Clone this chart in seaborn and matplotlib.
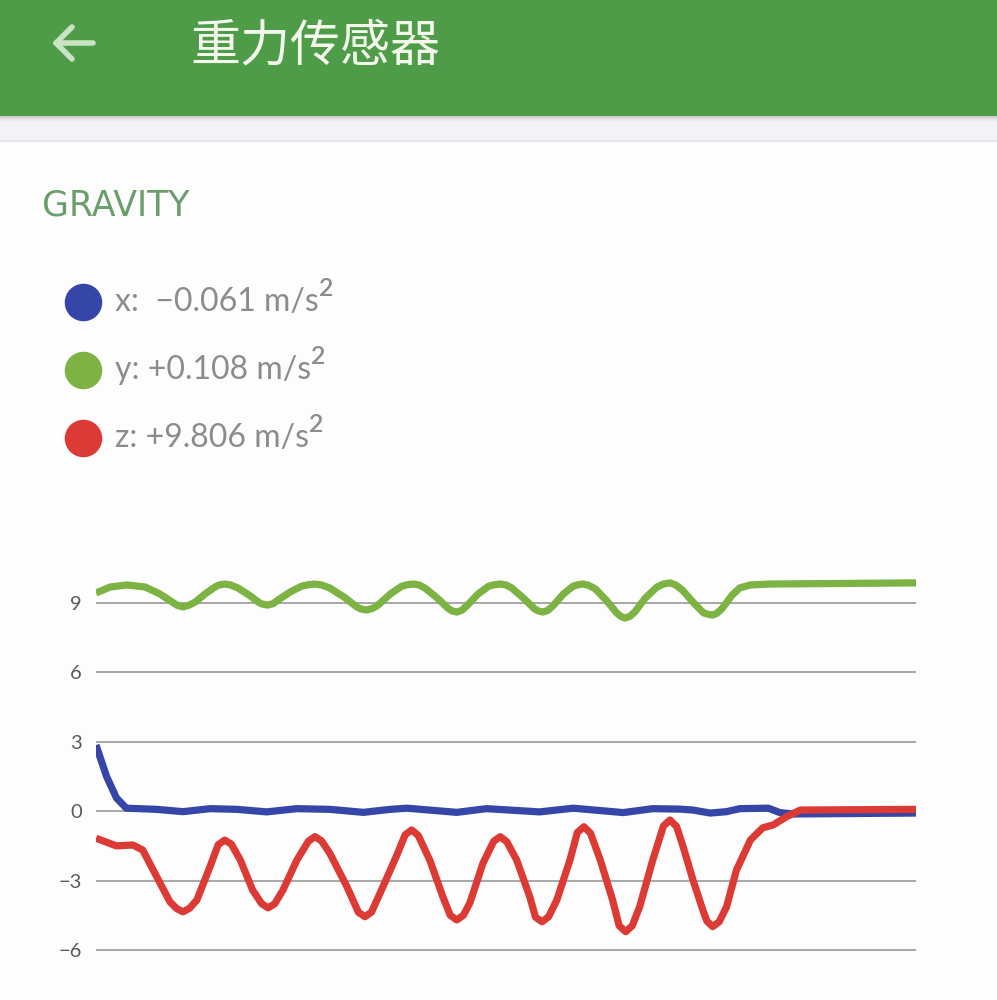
import pandas as pd
import seaborn as sns
import matplotlib.pyplot as plt
from matplotlib.patches import Rectangle
from matplotlib.lines import Line2D
from matplotlib.text import Annotation

# gravity sensor readings (time in s, value in m/s^2)
t_x = [0, 0.13, 0.25, 0.37, 0.74, 1.06, 1.39, 1.72, 2.08, 2.45, 2.85, 3.26, 3.59, 3.79,
       4.40, 4.76, 5.41, 5.82, 6.43, 6.79, 7.12, 7.28, 7.49, 7.69, 7.85, 8.20, 8.34, 8.50, 10.0]
g_x = [2.86, 1.49, 0.57, 0.13, 0.08, -0.02, 0.11, 0.08, -0.03, 0.11, 0.08, -0.05, 0.08, 0.13,
       -0.05, 0.11, -0.03, 0.13, -0.06, 0.11, 0.09, 0.05, -0.08, -0.02, 0.11, 0.13, -0.06, -0.12, -0.08]

t_y = [0, 0.17, 0.38, 0.60, 0.78, 0.93, 0.99, 1.06, 1.13, 1.21, 1.33, 1.45, 1.50, 1.57, 1.64,
       1.73, 1.88, 1.98, 2.02, 2.09, 2.16, 2.22, 2.37, 2.51, 2.59, 2.67, 2.75, 2.85, 3.04, 3.18,
       3.23, 3.30, 3.37, 3.44, 3.59, 3.73, 3.80, 3.87, 3.94, 4.01, 4.16, 4.29, 4.34, 4.40, 4.46,
       4.52, 4.66, 4.79, 4.86, 4.93, 5.00, 5.07, 5.21, 5.35, 5.40, 5.45, 5.51, 5.57, 5.70, 5.82,
       5.88, 5.94, 6.01, 6.09, 6.23, 6.35, 6.40, 6.45, 6.51, 6.57, 6.70, 6.84, 6.92, 7.00, 7.07,
       7.15, 7.29, 7.41, 7.47, 7.52, 7.57, 7.63, 7.76, 7.85, 7.98, 8.22, 10.0]
g_y = [9.43, 9.69, 9.78, 9.69, 9.39, 9.04, 8.90, 8.83, 8.90, 9.04, 9.39, 9.69, 9.78, 9.82, 9.78,
       9.65, 9.31, 9.04, 8.96, 8.91, 8.97, 9.13, 9.48, 9.73, 9.79, 9.82, 9.78, 9.65, 9.22, 8.83,
       8.74, 8.70, 8.76, 8.91, 9.39, 9.73, 9.79, 9.82, 9.78, 9.65, 9.22, 8.78, 8.66, 8.61, 8.68,
       8.87, 9.39, 9.73, 9.79, 9.82, 9.78, 9.65, 9.22, 8.74, 8.65, 8.61, 8.68, 8.87, 9.39, 9.73,
       9.79, 9.82, 9.76, 9.61, 9.09, 8.57, 8.42, 8.35, 8.42, 8.61, 9.22, 9.69, 9.82, 9.87, 9.78,
       9.56, 9.00, 8.57, 8.51, 8.48, 8.55, 8.74, 9.35, 9.65, 9.78, 9.82, 9.87]

t_z = [0, 0.25, 0.45, 0.57, 0.74, 0.90, 0.98, 1.06, 1.14, 1.23, 1.39, 1.49, 1.57, 1.65, 1.76,
       1.91, 2.02, 2.10, 2.18, 2.28, 2.45, 2.59, 2.67, 2.75, 2.85, 3.06, 3.20, 3.28, 3.36, 3.50,
       3.67, 3.77, 3.85, 3.93, 4.07, 4.23, 4.32, 4.40, 4.48, 4.56, 4.72, 4.85, 4.93, 5.01, 5.13,
       5.29, 5.36, 5.44, 5.52, 5.62, 5.78, 5.87, 5.95, 6.03, 6.15, 6.30, 6.38, 6.46, 6.54, 6.63,
       6.79, 6.92, 7.00, 7.08, 7.16, 7.28, 7.40, 7.45, 7.52, 7.60, 7.69, 7.81, 7.98, 8.13, 8.26,
       8.42, 8.59, 10.0]
g_z = [-1.17, -1.50, -1.46, -1.68, -2.83, -3.91, -4.20, -4.35, -4.20, -3.84, -2.40, -1.45, -1.25, -1.42, -2.11,
       -3.41, -4.00, -4.18, -4.00, -3.41, -2.11, -1.30, -1.10, -1.28, -1.81, -3.26, -4.37, -4.56, -4.36, -3.26,
       -1.89, -1.02, -0.81, -1.05, -2.11, -3.70, -4.50, -4.70, -4.50, -3.96, -2.24, -1.30, -1.10, -1.32, -2.11,
       -3.70, -4.58, -4.78, -4.56, -3.84, -2.11, -0.92, -0.67, -0.95, -2.11, -3.84, -4.95, -5.21, -4.95, -4.13,
       -2.11, -0.64, -0.38, -0.66, -1.53, -2.97, -4.27, -4.75, -4.99, -4.78, -4.13, -2.55, -1.25, -0.72, -0.59,
       -0.24, 0.05, 0.08]

axis_names = ['x', 'y', 'z']
readouts = [-0.061, 0.108, 9.806]
colors = ['#3646A8', '#7CB342', '#DC3A35']
yticks = [-6, -3, 0, 3, 6, 9]

df = pd.concat([
    pd.DataFrame({'t': t_x, 'g': g_x, 'axis': 'x'}),
    pd.DataFrame({'t': t_y, 'g': g_y, 'axis': 'y'}),
    pd.DataFrame({'t': t_z, 'g': g_z, 'axis': 'z'}),
])

sns.set_theme(style='white')
plt.rcParams['font.family'] = ['Lato', 'Noto Sans CJK SC', 'DejaVu Sans']

W, H = 997, 1000
fig = plt.figure(figsize=(W / 100, H / 100), dpi=100)
fig.patch.set_facecolor('#FDFDFD')

def fx(px):
    return px / W

def fy(py):
    return 1 - py / H

# app bar + shadow
fig.add_artist(Rectangle((0, fy(141)), 1, 141 / H, transform=fig.transFigure, color='#F4F2F6', zorder=0))
fig.add_artist(Line2D([0, 1], [fy(141), fy(141)], transform=fig.transFigure, color='#E2E0E4', lw=1.2))
for i, a in enumerate([0.45, 0.32, 0.22, 0.14, 0.08, 0.04]):
    fig.add_artist(Rectangle((0, fy(116 + i)), 1, 1 / H, transform=fig.transFigure,
                             color='#6E6E6E', alpha=a, lw=0, zorder=1))
fig.add_artist(Rectangle((0, fy(116)), 1, 116 / H, transform=fig.transFigure, color='#4F9C48', lw=0, zorder=2))

# back arrow
arrow_kw = dict(transform=fig.transFigure, color='#C8E4C4', lw=4.0, solid_capstyle='round', zorder=3)
fig.add_artist(Line2D([fx(56), fx(93)], [fy(43), fy(43)], **arrow_kw))
fig.add_artist(Line2D([fx(72), fx(56), fx(72)], [fy(27), fy(43), fy(59)], solid_joinstyle='round', **arrow_kw))

fig.text(fx(190), fy(46), '重力传感器', fontsize=36, color='#F3F7EC', va='center', ha='left',
         family=['Noto Sans CJK SC'], zorder=3)

fig.text(fx(42), fy(205), 'GRAVITY', fontsize=25, color='#6A9E6A', va='center', ha='left',
         family=['DejaVu Sans'])

# chart
y_lo, y_hi = -6.5, 10.5
px_per_unit = (950 - 603) / 15
top_px = 603 - (y_hi - 9) * px_per_unit
bot_px = 950 + (y_lo + 6) * -px_per_unit
ax = fig.add_axes([fx(96), fy(bot_px), fx(916) - fx(96), (bot_px - top_px) / H])
ax.set_facecolor('none')

sns.lineplot(data=df, x='t', y='g', hue='axis', hue_order=axis_names, palette=colors,
             estimator=None, linewidth=5.2, legend=False, ax=ax,
             solid_joinstyle='round', solid_capstyle='butt')

ax.set_xlim(0, 10)
ax.set_ylim(y_lo, y_hi)
ax.set_yticks(yticks)
ax.set_xticks([])
ax.set_xlabel('')
ax.set_ylabel('')
ax.yaxis.grid(True, color='#A0A0A0', linewidth=1.3)
ax.set_axisbelow(True)
ax.tick_params(axis='y', length=0, pad=10, labelsize=14.5, labelcolor='#5A5A5A')
sns.despine(ax=ax, left=True, bottom=True)

# readout legend
for i, (name, val, c) in enumerate(zip(axis_names, readouts, colors)):
    yy = fy(302 + 68 * i)
    fig.add_artist(Line2D([fx(83)], [yy], transform=fig.transFigure, marker='o', markersize=26,
                          color=c, linestyle='none'))
    sep = '  ' if val < 0 else ' '
    label = f'{name}:{sep}{val:+.3f} m/s'.replace('-', '\u2212')
    txt = fig.text(fx(115), yy, label, fontsize=23, color='#8C8C8C', va='center', ha='left')
    fig.add_artist(Annotation('2', xy=(1.0, 0.95), xycoords=txt, fontsize=18, color='#8C8C8C',
                              fontweight='semibold', va='center', ha='left', annotation_clip=False))

fig.savefig('out.png', dpi=100, facecolor=fig.get_facecolor())
